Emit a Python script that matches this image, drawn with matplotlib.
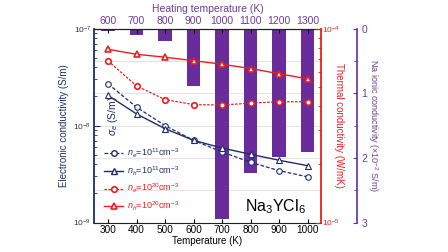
import matplotlib
matplotlib.use("Agg")
import matplotlib.pyplot as plt
from matplotlib.ticker import FixedLocator, NullFormatter, LogFormatterSciNotation
from matplotlib.lines import Line2D

plt.rcParams['font.family'] = ['Liberation Sans', 'DejaVu Sans']
plt.rcParams['mathtext.fontset'] = 'custom'
plt.rcParams['mathtext.rm'] = 'Liberation Sans'
plt.rcParams['mathtext.it'] = 'Liberation Sans:italic'

# ---- data ----
temperature = [300, 400, 500, 600, 700, 800, 900, 1000]
heating_temperature = [600, 700, 800, 900, 1000, 1100, 1200, 1300]
sigma_ne_1e11 = [2.7e-8, 1.55e-8, 1.0e-8, 7.05e-9, 5.35e-9, 4.18e-9, 3.43e-9, 2.96e-9]
sigma_nh_1e11 = [2.05e-8, 1.32e-8, 9.3e-9, 7.05e-9, 5.87e-9, 5.06e-9, 4.39e-9, 3.86e-9]
kappa_ne_1e20 = [6.82e-5, 5.07e-5, 4.31e-5, 4.06e-5, 4.04e-5, 4.13e-5, 4.2e-5, 4.2e-5]
kappa_nh_1e20 = [7.83e-5, 7.38e-5, 7.13e-5, 6.84e-5, 6.56e-5, 6.23e-5, 5.86e-5, 5.51e-5]
na_ionic = [0.035, 0.09, 0.19, 0.88, 2.95, 2.24, 1.99, 1.91]
sigma_ticks = [1e-9, 1e-8, 1e-7]
kappa_ticks = [1e-5, 1e-4]
na_ticks = [0, 1, 2, 3]
legend_labels = [r"$n_e$=10$^{11}$cm$^{-3}$", r"$n_h$=10$^{11}$cm$^{-3}$",
                 r"$n_e$=10$^{20}$cm$^{-3}$", r"$n_h$=10$^{20}$cm$^{-3}$"]

navy = "#1f2d6b"
red = "#ee1c1c"
purple = "#6a2c9a"
purple_txt = "#6a3d9a"


def minor_log(majors):
    return [m * k for m in majors[:-1] for k in range(2, 10)]


fig = plt.figure(figsize=(4.48, 2.52), dpi=100)
rect = [0.21, 0.117, 0.5065, 0.769]
ax3 = fig.add_axes(rect)  # bars (bottom)
ax = fig.add_axes(rect, sharex=ax3)
ax2 = fig.add_axes(rect, sharex=ax3)
ax.patch.set_visible(False)
ax2.patch.set_visible(False)

# --- bars (Na ionic conductivity) ---
ax3.bar(temperature, na_ionic, width=48, color=purple, zorder=2)
ax3.set_ylim(3, 0)
ax3.yaxis.set_major_locator(FixedLocator(na_ticks))
ax3.yaxis.set_minor_locator(FixedLocator([0.5, 1.5, 2.5]))
ax3.grid(True, which='both', axis='y', color='#e3e3e3', lw=0.8, zorder=0)
ax3.set_axisbelow(True)
ax3.yaxis.tick_right()
ax3.yaxis.set_label_position('right')
for s in ['left', 'top', 'bottom']:
    ax3.spines[s].set_visible(False)
ax3.spines['right'].set_position(('axes', 1.159))
ax3.spines['right'].set_color(purple)
ax3.spines['right'].set_linewidth(1.2)
ax3.tick_params(axis='y', which='major', direction='in', length=3, colors=purple,
                labelcolor=purple_txt, labelsize=7.5, pad=3)
ax3.tick_params(axis='y', which='minor', direction='in', length=2, colors=purple)
ax3.tick_params(axis='x', bottom=False, labelbottom=False)
ax3.set_ylabel("Na ionic conductivity (×10$^{-2}$ S/m)", color=purple_txt,
               fontsize=6.5, rotation=270, labelpad=9)

# --- electronic conductivity (left) ---
ax.plot(temperature, sigma_ne_1e11, color=navy, ls=(0, (3, 1.5)), lw=0.9,
        marker='o', ms=4, mfc='white', mec=navy, mew=0.8, zorder=3)
ax.plot(temperature, sigma_nh_1e11, color=navy, ls='-', lw=1.0,
        marker='^', ms=4.5, mfc='white', mec=navy, mew=0.8, zorder=3)
ax.set_yscale('log')
ax.set_ylim(1e-9, 1e-7)
ax.set_xlim(251, 1047)
ax.yaxis.set_major_locator(FixedLocator(sigma_ticks))
ax.yaxis.set_major_formatter(LogFormatterSciNotation())
ax.yaxis.set_minor_locator(FixedLocator(minor_log(sigma_ticks)))
ax.yaxis.set_minor_formatter(NullFormatter())
ax.tick_params(axis='y', which='major', direction='in', length=4, color=navy,
               labelsize=6, labelcolor='#333333', pad=2)
ax.tick_params(axis='y', which='minor', direction='in', length=2, color=navy)
ax.tick_params(axis='x', which='major', direction='in', length=3, labelsize=7.2, pad=2)
ax.set_xticks(temperature)
ax.spines['left'].set_color(navy)
ax.spines['left'].set_linewidth(1.3)
ax.spines['right'].set_visible(False)
ax.spines['bottom'].set_color('#222222')
ax.spines['top'].set_color('#222222')
ax.set_ylabel("Electronic conductivity (S/m)", color=navy, fontsize=7, labelpad=3)
ax.set_xlabel("Temperature (K)", fontsize=7, labelpad=0.5)
ax.text(0.085, 0.55, r"$\sigma_e$ (S/m)", transform=ax.transAxes, rotation=90,
        color=navy, fontsize=7.5, ha='center', va='center')
ax.text(0.8, 0.08, r"Na$_3$YCl$_6$", transform=ax.transAxes, fontsize=11.5,
        ha='center', va='center')

# top axis: heating temperature
sec = ax.secondary_xaxis('top', functions=(lambda x: x + 300, lambda x: x - 300))
sec.set_xticks(heating_temperature)
sec.tick_params(direction='in', length=3, labelsize=7.5, labelcolor=purple_txt, pad=2)
sec.set_xlabel("Heating temperature (K)", color=purple_txt, fontsize=7.5, labelpad=3)

# --- thermal conductivity (right) ---
ax2.plot(temperature, kappa_ne_1e20, color=red, ls=(0, (2, 1.2)), lw=0.9,
         marker='o', ms=4, mfc='white', mec=red, mew=1.2, zorder=3)
ax2.plot(temperature, kappa_nh_1e20, color=red, ls='-', lw=1.0,
         marker='^', ms=4.5, mfc='white', mec=red, mew=1.2, zorder=3)
ax2.set_yscale('log')
ax2.set_ylim(1e-5, 1e-4)
ax2.yaxis.tick_right()
ax2.yaxis.set_label_position('right')
ax2.yaxis.set_major_locator(FixedLocator(kappa_ticks))
ax2.yaxis.set_major_formatter(LogFormatterSciNotation())
ax2.yaxis.set_minor_locator(FixedLocator(minor_log(kappa_ticks)))
ax2.yaxis.set_minor_formatter(NullFormatter())
for s in ['left', 'top', 'bottom']:
    ax2.spines[s].set_visible(False)
ax2.spines['right'].set_color(red)
ax2.spines['right'].set_linewidth(1.3)
ax2.tick_params(axis='y', which='major', direction='in', length=4, color=red,
                labelsize=6, labelcolor=red, pad=1)
ax2.tick_params(axis='y', which='minor', direction='in', length=2, color=red)
ax2.tick_params(axis='x', bottom=False, labelbottom=False)
ax2.set_ylabel("Thermal conductivity (W/mK)", color=red, fontsize=7,
               rotation=270, labelpad=3)

# legend
handles = [
    Line2D([], [], color=navy, ls=(0, (3, 1.5)), lw=0.9, marker='o', ms=4, mfc='white', mec=navy),
    Line2D([], [], color=navy, ls='-', lw=1.0, marker='^', ms=4.5, mfc='white', mec=navy),
    Line2D([], [], color=red, ls=(0, (2, 1.2)), lw=0.9, marker='o', ms=4, mfc='white', mec=red, mew=1.2),
    Line2D([], [], color=red, ls='-', lw=1.0, marker='^', ms=4.5, mfc='white', mec=red, mew=1.2),
]
leg = ax2.legend(handles, legend_labels, loc='lower left', bbox_to_anchor=(0.03, 0.03),
                 frameon=False, fontsize=6.5, handlelength=2.0, handletextpad=0.5,
                 labelspacing=0.5, borderaxespad=0)
for t, c in zip(leg.get_texts(), [navy, navy, red, red]):
    t.set_color(c)

fig.savefig("out.png", dpi=100)
